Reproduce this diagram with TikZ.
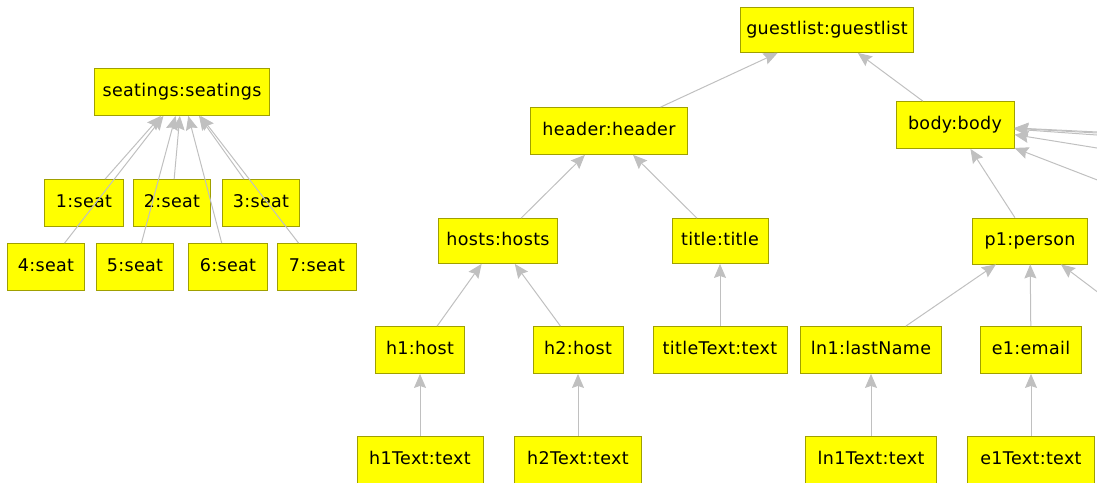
\documentclass[tikz,border=0pt]{standalone}
\usepackage{fontspec}
\usetikzlibrary{arrows.meta}
\newfontfamily\boxfont[LetterSpace=2]{DejaVu Sans}
\definecolor{boxline}{RGB}{160,160,0}
\definecolor{boxfill}{RGB}{255,255,0}
\definecolor{linkgray}{RGB}{192,192,192}

\begin{document}
\begin{tikzpicture}[
			x=1pt,y=-1pt,
			elem/.style={rectangle,draw=boxline,fill=boxfill,line width=0.8pt,minimum height=47pt,
				inner sep=0pt,text height=13pt,text depth=3.6pt,font=\boxfont\fontsize{17.5}{20}\selectfont},
			ref/.style={draw=linkgray,line width=1pt,-{Stealth[length=14pt,width=12pt,inset=2pt]}},
			offpage/.style={coordinate}]
			\useasboundingbox (0,0) rectangle (1097,482);
			\clip (0,0) rectangle (1097,482);
			\node [elem,minimum width=175pt]	(seatings)	at (182,92)		{seatings:seatings};
			\node [elem,minimum width=79pt]		(seat1)		at (84,203)		{1:seat}
				edge [ref] (seatings);
			\node [elem,minimum width=77pt]		(seat2)		at (172,203)	{2:seat}
				edge [ref] (seatings);
			\node [elem,minimum width=77pt]		(seat3)		at (261,203)	{3:seat}
				edge [ref] (seatings);
			\node [elem,minimum width=77pt]		(seat4)		at (46,267)		{4:seat}
				edge [ref] (seatings);
			\node [elem,minimum width=77pt]		(seat5)		at (135,267)	{5:seat}
				edge [ref] (seatings);
			\node [elem,minimum width=79pt]		(seat6)		at (228,267)	{6:seat}
				edge [ref] (seatings);
			\node [elem,minimum width=79pt]		(seat7)		at (317,267)	{7:seat}
				edge [ref] (seatings);
			\node [elem,minimum width=173pt,minimum height=45pt]	(guestlist)	at (827,30)	{guestlist:guestlist};
			\node [elem,minimum width=157pt]	(header)	at (609,131)	{header:header}
				edge [ref] (guestlist);
			\node [elem,minimum width=118pt]	(body)		at (955,125)	{body:body}
				edge [ref] (guestlist);
			\node [elem,minimum width=119pt,minimum height=45pt]	(hosts)	at (498,241)	{hosts:hosts}
				edge [ref] (header);
			\node [elem,minimum width=96pt,minimum height=45pt]		(title)	at (720,241)	{title:title}
				edge [ref] (header);
			\node [elem,minimum width=115pt,minimum height=46pt]	(p1)	at (1030,241)	{p1:person}
				edge [ref] (body);
			\node [offpage]	(rest1)	at (1250,139.5) {} edge [ref] (body);
			\node [offpage]	(rest2)	at (1250,141.6) {} edge [ref] (body);
			\node [offpage]	(rest3)	at (1250,145.8) {} edge [ref] (body);
			\node [offpage]	(rest4)	at (1250,172.8) {} edge [ref] (body);
			\node [offpage]	(rest5)	at (1250,239) {} edge [ref] (body);
			\node [offpage]	(fn1)	at (1250,407) {} edge [ref] (p1);
			\node [elem,minimum width=89pt]		(h1)		at (420,350)	{h1:host}
				edge [ref] (hosts);
			\node [elem,minimum width=90pt]		(h2)		at (578,350)	{h2:host}
				edge [ref] (hosts);
			\node [elem,minimum width=134pt]	(titleText)	at (720,350)	{titleText:text}
				edge [ref] (title);
			\node [elem,minimum width=141pt]	(ln1)		at (871,350)	{ln1:lastName}
				edge [ref] (p1);
			\node [elem,minimum width=101pt]	(e1)		at (1031,350)	{e1:email}
				edge [ref] (p1);
			\node [elem,minimum width=126pt]	(h1Text)	at (420,460)	{h1Text:text}
				edge [ref] (h1);
			\node [elem,minimum width=127pt]	(h2Text)	at (578,460)	{h2Text:text}
				edge [ref] (h2);
			\node [elem,minimum width=131pt]	(ln1Text)	at (871,460)	{ln1Text:text}
				edge [ref] (ln1);
			\node [elem,minimum width=127pt]	(e1Text)	at (1031,460)	{e1Text:text}
				edge [ref] (e1);
		\end{tikzpicture}
\end{document}
